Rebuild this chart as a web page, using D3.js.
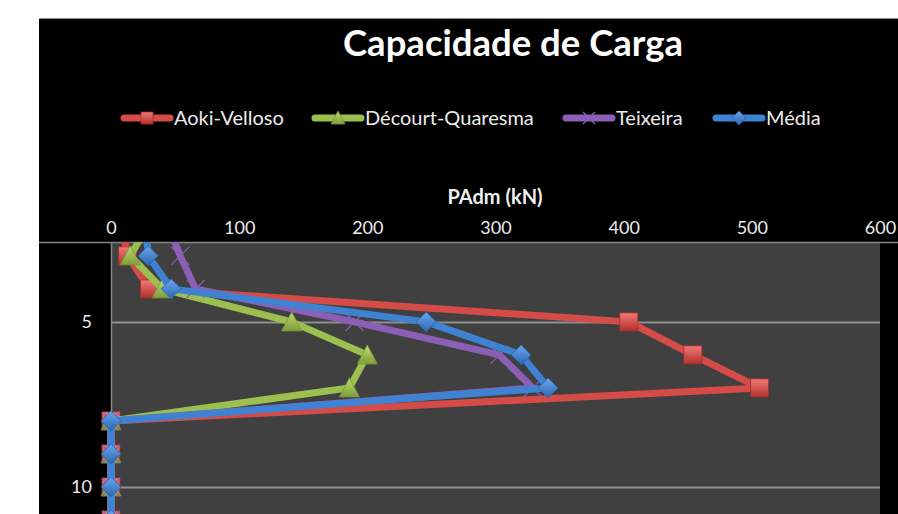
<!DOCTYPE html>
<html>
<head>
<meta charset="utf-8">
<script src="https://cdn.jsdelivr.net/npm/d3@7"></script>
<style>
  body { margin: 0; background: #fff; }
  text { font-family: Lato, "Open Sans", sans-serif; }
</style>
</head>
<body>
<div id="chart"></div>
<script>
// depth (m) down the y axis, load PAdm (kN) along the top x axis
var depth = [2, 3, 4, 5, 6, 7, 8, 9, 10, 11];
var aokiVelloso = [8, 13, 30, 404, 454, 506, 0, 0, 0, 0];
var decourtQuaresma = [30, 15, 40, 141, 200, 186, 0, 0, 0, 0];
var teixeira = [44, 54, 66, 190, 303, 329, 0, 0, 0, 0];
var media = [27, 29, 47, 246, 320, 341, 0, 0, 0, 0];

var seriesNames = ["Aoki-Velloso", "Décourt-Quaresma", "Teixeira", "Média"];
var xTicks = [0, 100, 200, 300, 400, 500, 600];
var yTicks = [5, 10];

var svgWidth = 898;
var svgHeight = 514;

// plot area inside the black chart frame
var plot = { left: 111, right: 880, top: 242, bottom: 514 };

var svg = d3.select("#chart")
  .append("svg")
  .attr("width", svgWidth)
  .attr("height", svgHeight);

var defs = svg.append("defs");

defs.append("clipPath")
  .attr("id", "plotClip")
  .append("rect")
  .attr("x", 39)
  .attr("y", plot.top)
  .attr("width", svgWidth - 39)
  .attr("height", plot.bottom - plot.top);

// bevel-ish gradients for the markers
function makeGrad(id, top, bottom) {
  var g = defs.append("linearGradient")
    .attr("id", id)
    .attr("x1", 0).attr("y1", 0)
    .attr("x2", 0).attr("y2", 1);
  g.append("stop").attr("offset", "0%").attr("stop-color", top);
  g.append("stop").attr("offset", "100%").attr("stop-color", bottom);
}
makeGrad("gRed", "#f07a76", "#b3302e");
makeGrad("gGreen", "#bcdc78", "#7f9e3a");
makeGrad("gBlue", "#6aa6ee", "#2c66b0");

var series = [
  { name: seriesNames[0], values: aokiVelloso, color: "#d44b48", marker: "square", fill: "url(#gRed)" },
  { name: seriesNames[1], values: decourtQuaresma, color: "#9bc04f", marker: "triangle", fill: "url(#gGreen)" },
  { name: seriesNames[2], values: teixeira, color: "#8a5fb5", marker: "cross", fill: "none" },
  { name: seriesNames[3], values: media, color: "#3f82d2", marker: "diamond", fill: "url(#gBlue)" }
];

// frame
svg.append("rect")
  .attr("x", 39)
  .attr("y", 18)
  .attr("width", svgWidth - 39)
  .attr("height", svgHeight - 18)
  .attr("fill", "#000");
svg.append("line")
  .attr("x1", 39).attr("x2", svgWidth)
  .attr("y1", 18.5).attr("y2", 18.5)
  .attr("stroke", "#8c8c8c");

// scales
var xScale = d3.scaleLinear()
  .domain([0, 600])
  .range([plot.left, plot.right]);

var yScale = d3.scaleLinear()
  .domain([2.58, 10.82])
  .range([plot.top, plot.bottom]);

// plot background
svg.append("rect")
  .attr("x", plot.left)
  .attr("y", plot.top)
  .attr("width", plot.right - plot.left)
  .attr("height", plot.bottom - plot.top)
  .attr("fill", "#404040");

// gridlines
svg.append("g")
  .selectAll("line")
  .data(yTicks)
  .enter()
  .append("line")
  .attr("x1", plot.left)
  .attr("x2", plot.right)
  .attr("y1", d => Math.round(yScale(d)) + 0.5)
  .attr("y2", d => Math.round(yScale(d)) + 0.5)
  .attr("stroke", "#8f8f8f")
  .attr("stroke-width", 2);

// top axis
var topAxis = d3.axisTop(xScale)
  .tickValues(xTicks)
  .tickSize(0)
  .tickPadding(8);

var xAxis = svg.append("g")
  .attr("transform", `translate(0, ${plot.top})`)
  .call(topAxis);
xAxis.select(".domain").remove();
xAxis.selectAll("text")
  .attr("fill", "#ececec")
  .attr("font-size", "18px")
  .attr("font-family", "Lato, sans-serif");

svg.append("line")
  .attr("x1", 39).attr("x2", svgWidth)
  .attr("y1", plot.top + 0.5).attr("y2", plot.top + 0.5)
  .attr("stroke", "#858585")
  .attr("stroke-width", 1.5);

// left axis
var leftAxis = d3.axisLeft(yScale)
  .tickValues(yTicks)
  .tickSize(0)
  .tickPadding(19);

var yAxis = svg.append("g")
  .attr("transform", `translate(${plot.left}, 0)`)
  .call(leftAxis);
yAxis.select(".domain").remove();
yAxis.selectAll("text")
  .attr("fill", "#ececec")
  .attr("font-size", "18px")
  .attr("font-family", "Lato, sans-serif");

svg.append("line")
  .attr("x1", plot.left + 0.5).attr("x2", plot.left + 0.5)
  .attr("y1", plot.top).attr("y2", plot.bottom)
  .attr("stroke", "#858585")
  .attr("stroke-width", 1.5);

// marker drawing
function drawMarker(sel, s, size) {
  var h = size / 2;
  if (s.marker === "square") {
    sel.append("rect")
      .attr("x", -h).attr("y", -h)
      .attr("width", size).attr("height", size)
      .attr("fill", s.fill)
      .attr("stroke", "#a82c2a")
      .attr("stroke-width", 0.8);
  } else if (s.marker === "triangle") {
    sel.append("path")
      .attr("d", `M0,${-h - 1}L${h + 1},${h}L${-h - 1},${h}Z`)
      .attr("fill", s.fill)
      .attr("stroke", "#7a9838")
      .attr("stroke-width", 0.8);
  } else if (s.marker === "diamond") {
    sel.append("path")
      .attr("d", `M0,${-h - 1}L${h + 1},0L0,${h + 1}L${-h - 1},0Z`)
      .attr("fill", s.fill)
      .attr("stroke", "#2a62a8")
      .attr("stroke-width", 0.8);
  } else {
    sel.append("path")
      .attr("d", `M${-h},${-h}L${h},${h}M${-h},${h}L${h},${-h}`)
      .attr("stroke", s.color)
      .attr("stroke-width", 1.3)
      .attr("fill", "none");
  }
}

// series lines and markers
var lineGen = d3.line()
  .x(d => xScale(d.v))
  .y(d => yScale(d.depth));

var seriesGroup = svg.append("g")
  .attr("clip-path", "url(#plotClip)");

series.forEach(function(s) {
  var pts = depth.map((dp, i) => ({ depth: dp, v: s.values[i] }));
  var g = seriesGroup.append("g");

  g.append("path")
    .datum(pts)
    .attr("d", lineGen)
    .attr("fill", "none")
    .attr("stroke", s.color)
    .attr("stroke-width", 7)
    .attr("stroke-linejoin", "round")
    .attr("stroke-linecap", "round");

  g.selectAll(".marker")
    .data(pts)
    .enter()
    .append("g")
    .attr("class", "marker")
    .attr("transform", d => `translate(${xScale(d.v)}, ${yScale(d.depth)})`)
    .each(function() { drawMarker(d3.select(this), s, 18); });
});

// title
svg.append("text")
  .attr("x", 513)
  .attr("y", 56)
  .attr("text-anchor", "middle")
  .attr("fill", "#fff")
  .attr("font-size", "36.5px")
  .attr("font-weight", "bold")
  .text("Capacidade de Carga");

// axis title
svg.append("text")
  .attr("x", 495)
  .attr("y", 204)
  .attr("text-anchor", "middle")
  .attr("fill", "#f0f0f0")
  .attr("font-size", "20px")
  .attr("font-weight", "bold")
  .text("PAdm (kN)");

// legend
var legendX = [124, 315, 566, 716];
var legend = svg.append("g");
series.forEach(function(s, i) {
  var lg = legend.append("g")
    .attr("transform", `translate(${legendX[i]}, 118)`);
  lg.append("line")
    .attr("x1", 0).attr("x2", 46)
    .attr("stroke", s.color)
    .attr("stroke-width", 7)
    .attr("stroke-linecap", "round");
  var m = lg.append("g").attr("transform", "translate(23, 0)");
  drawMarker(m, s, 12);
  lg.append("text")
    .attr("x", 50)
    .attr("y", 6.5)
    .attr("fill", "#ececec")
    .attr("font-size", "20px")
    .text(s.name);
});
</script>
</body>
</html>
